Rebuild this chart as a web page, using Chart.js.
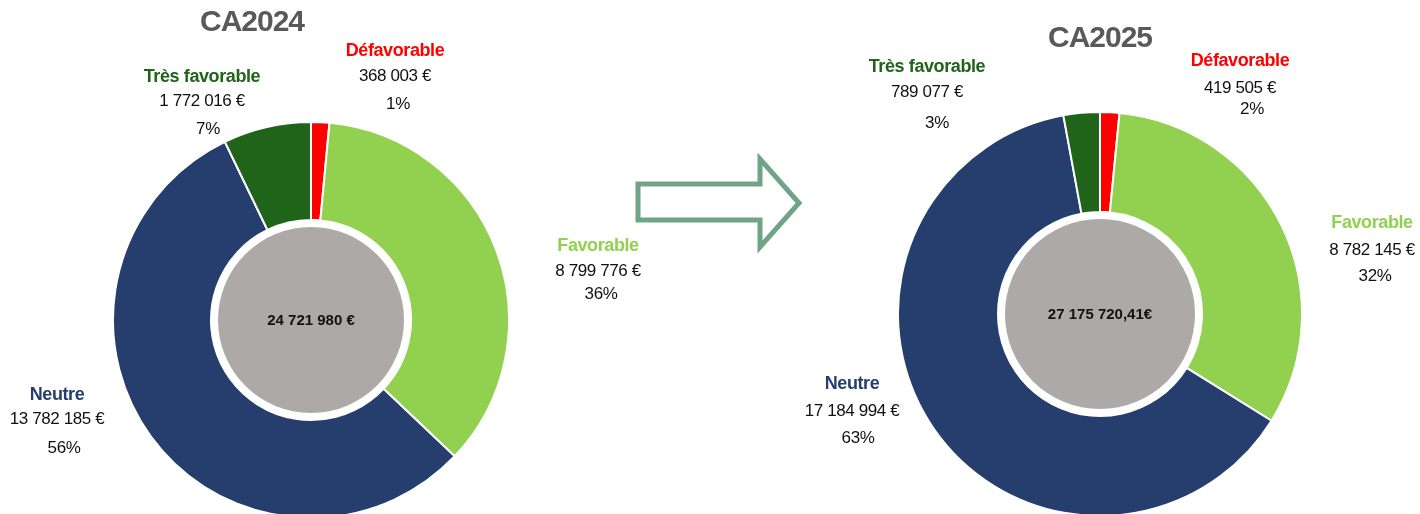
<!DOCTYPE html>
<html>
<head>
<meta charset="utf-8">
<script src="https://cdn.jsdelivr.net/npm/chart.js@4.4.0/dist/chart.umd.min.js"></script>
<style>
  html, body { margin: 0; padding: 0; background: #fff; }
  body { width: 1420px; height: 514px; overflow: hidden; position: relative; font-family: "Liberation Sans", Arial, sans-serif; }
  canvas { position: absolute; }
  .t { position: absolute; transform: translate(-50%, -50%); white-space: nowrap; line-height: 1; }
  .title { font-size: 30px; font-weight: bold; color: #595959; letter-spacing: -1px; }
  .name { font-size: 18px; font-weight: bold; letter-spacing: -0.4px; }
  .num { font-size: 17px; color: #111; letter-spacing: -0.4px; }
</style>
</head>
<body>
<canvas id="c2024" width="398" height="398" style="left:112px;top:121px"></canvas>
<canvas id="c2025" width="406" height="406" style="left:897px;top:111px"></canvas>
<svg width="1420" height="514" style="position:absolute;left:0;top:0">
  <polygon points="638,184 760,184 760,159 799,203 760,247 760,220 638,220" fill="none" stroke="#6FA486" stroke-width="5"/>
</svg>
<script>
// données
var categories = ['Défavorable', 'Favorable', 'Neutre', 'Très favorable'];
var colors = ['#FF0000', '#92D050', '#253E6E', '#1F6419'];
var values2024 = [368003, 8799776, 13782185, 1772016];
var values2025 = [419505, 8782145, 17184994, 789077];
var total2024 = '24 721 980 €';
var total2025 = '27 175 720,41€';

// position des étiquettes (x, y du nom / montant / %)
var pos2024 = [
	{x: 395, yName: 50, yNum: 75, xPct: 398, yPct: 103},
	{x: 598, yName: 245, yNum: 270, xPct: 601, yPct: 293},
	{x: 57, yName: 394, yNum: 418, xPct: 64, yPct: 447},
	{x: 202, yName: 76, yNum: 100, xPct: 208, yPct: 128}
];
var pos2025 = [
	{x: 1240, yName: 60, yNum: 87, xPct: 1252, yPct: 108},
	{x: 1372, yName: 222, yNum: 249, xPct: 1375, yPct: 275},
	{x: 852, yName: 383, yNum: 410, xPct: 858, yPct: 437},
	{x: 927, yName: 66, yNum: 91, xPct: 937, yPct: 122}
];

//format 1 234 567 €
function fmt(n){
	return String(n).replace(/\B(?=(\d{3})+(?!\d))/g, ' ') + ' €';
}

function addText(txt, cls, x, y, color){
	var d = document.createElement('div');
	d.className = 't ' + cls;
	d.textContent = txt;
	d.style.left = x + 'px';
	d.style.top = y + 'px';
	if(color) d.style.color = color;
	document.body.appendChild(d);
}

function drawLabels(values, pos, title, tx, ty){
	addText(title, 'title', tx, ty);
	var sum = values.reduce(function(a, b){ return a + b; }, 0);
	for(var i = 0; i < categories.length; i++){
		var p = pos[i];
		addText(categories[i], 'name', p.x, p.yName, colors[i]);
		addText(fmt(values[i]), 'num', p.x, p.yNum);
		addText(Math.round(values[i] / sum * 100) + '%', 'num', p.xPct, p.yPct);
	}
}

//cercle gris au centre + total
var centerPlugin = {
	id: 'centerCircle',
	afterDatasetsDraw: function(chart){
		var arc = chart.getDatasetMeta(0).data[0];
		var ctx = chart.ctx;
		ctx.save();
		ctx.beginPath();
		ctx.arc(arc.x, arc.y, arc.innerRadius - 7, 0, Math.PI * 2);
		ctx.fillStyle = '#ADA9A8';
		ctx.fill();
		ctx.fillStyle = '#111';
		ctx.font = 'bold 15px "Liberation Sans", Arial, sans-serif';
		ctx.textAlign = 'center';
		ctx.textBaseline = 'middle';
		ctx.fillText(chart.options.plugins.centerCircle.text, arc.x, arc.y + 1);
		ctx.restore();
	}
};

function drawDonut(id, values, total){
	var ctx = document.getElementById(id);
	return new Chart(ctx, {
		type: 'doughnut',
		data: {
			labels: categories,
			datasets: [{
				data: values,
				backgroundColor: colors,
				borderColor: '#ffffff',
				borderWidth: 2
			}]
		},
		options: {
			responsive: false,
			animation: false,
			cutout: '50.5%',
			layout: {padding: 0},
			plugins: {
				legend: {display: false},
				tooltip: {enabled: false},
				centerCircle: {text: total}
			}
		},
		plugins: [centerPlugin]
	});
}

drawDonut('c2024', values2024, total2024);
drawDonut('c2025', values2025, total2025);
drawLabels(values2024, pos2024, 'CA2024', 252, 21);
drawLabels(values2025, pos2025, 'CA2025', 1100, 37);
</script>
</body>
</html>
